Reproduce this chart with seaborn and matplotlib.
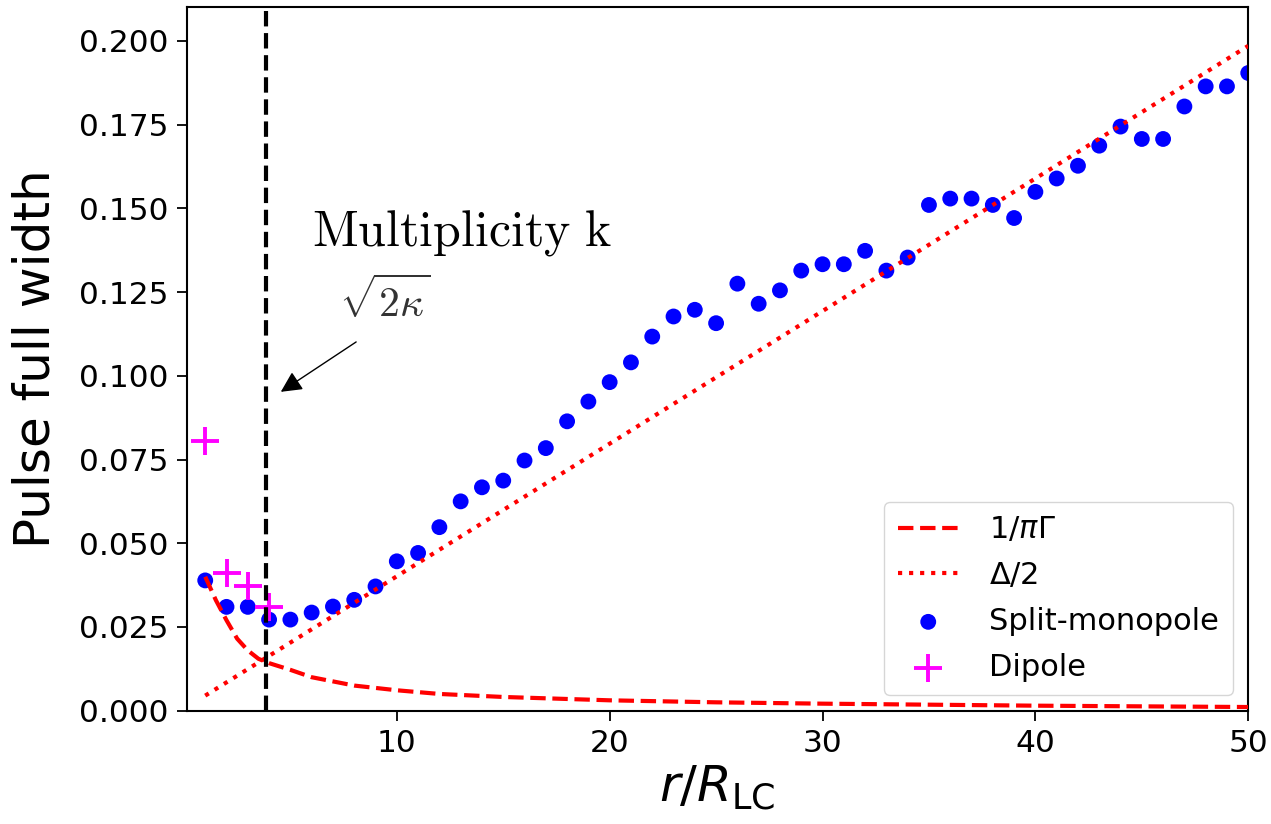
import numpy as np
import pandas as pd
import matplotlib
matplotlib.use("Agg")
import matplotlib.pyplot as plt
import seaborn as sns

# ---- data ----
split_r = list(range(1, 51))
split_width = [0.0389, 0.0310, 0.0310, 0.0272, 0.0272, 0.0293, 0.0311, 0.0331, 0.0371, 0.0446,
               0.0471, 0.0548, 0.0625, 0.0667, 0.0687, 0.0747, 0.0784, 0.0864, 0.0923, 0.0981,
               0.1040, 0.1117, 0.1177, 0.1197, 0.1157, 0.1275, 0.1215, 0.1255, 0.1314, 0.1333,
               0.1333, 0.1373, 0.1314, 0.1353, 0.1510, 0.1529, 0.1529, 0.1510, 0.1471, 0.1549,
               0.1589, 0.1627, 0.1687, 0.1744, 0.1707, 0.1707, 0.1804, 0.1864, 0.1864, 0.1904]

dipole_r = [1, 2, 3, 4]
dipole_width = [0.0804, 0.0411, 0.0371, 0.0311]

gamma_r = [1, 1.5, 2, 2.5, 3, 3.5, 4, 5, 6, 8, 10, 12, 15, 20, 25, 30, 35, 40, 45, 50]
gamma_width = [0.0400, 0.0330, 0.0270, 0.0215, 0.0180, 0.0155, 0.0142, 0.0122, 0.0100, 0.0075,
               0.0061, 0.0050, 0.0041, 0.0031, 0.0025, 0.0021, 0.0018, 0.0015, 0.0013, 0.0011]

delta_r = [1, 50]
delta_width = [0.0045, 0.1985]

kappa_r = 3.87  # sqrt(2 kappa)

xticks = [10, 20, 30, 40, 50]
yticks = [0.0, 0.025, 0.05, 0.075, 0.1, 0.125, 0.15, 0.175, 0.2]

# ---- plotting ----
sns.set_style("ticks")
plt.rcParams['font.family'] = ['DejaVu Sans']
plt.rcParams['text.color'] = 'black'
plt.rcParams['axes.labelcolor'] = 'black'
plt.rcParams['xtick.color'] = 'black'
plt.rcParams['ytick.color'] = 'black'

fig = plt.figure(figsize=(12.71, 8.24), dpi=100)
ax = fig.add_axes([0.1469, 0.1375, 0.8352, 0.8544])

df_gamma = pd.DataFrame({"r": gamma_r, "w": gamma_width})
df_delta = pd.DataFrame({"r": delta_r, "w": delta_width})
df_split = pd.DataFrame({"r": split_r, "w": split_width})
df_dip = pd.DataFrame({"r": dipole_r, "w": dipole_width})

sns.lineplot(data=df_gamma, x="r", y="w", ax=ax, color="red", lw=3,
             linestyle="--", label=r"$1/\pi\Gamma$", zorder=3)
sns.lineplot(data=df_delta, x="r", y="w", ax=ax, color="red", lw=3,
             linestyle=":", label=r"$\Delta/2$", zorder=3)
sns.scatterplot(data=df_split, x="r", y="w", ax=ax, color="blue", s=130,
                edgecolor="none", label="Split-monopole", zorder=2)
sns.scatterplot(data=df_dip, x="r", y="w", ax=ax, color="magenta", marker="+",
                s=420, linewidth=2.8, label="Dipole", zorder=4)

ax.axvline(kappa_r, color="black", lw=3, linestyle="--", zorder=5)

ax.text(6.02, 0.139, r"$\mathrm{Multiplicity\ k}$", fontsize=36,
        math_fontfamily="cm", va="baseline", ha="left", color="black")
ax.text(7.3, 0.1222, r"$\sqrt{2\kappa}$", fontsize=30, color="#333333",
        math_fontfamily="cm", va="center", ha="left")
ax.annotate("", xy=(4.55, 0.0952), xytext=(8.09, 0.1101),
            arrowprops=dict(arrowstyle="-|>", color="black", lw=1.0,
                            mutation_scale=32, shrinkA=0, shrinkB=0))

ax.set_xlim(0.13, 50)
ax.set_ylim(0, 0.2102)
ax.set_xticks(xticks)
ax.set_yticks(yticks)
ax.set_yticklabels([f"{v:.3f}" for v in yticks])
ax.tick_params(axis="both", labelsize=22.5, length=7, width=1.3, direction="out", pad=6,
               colors="black")
for sp in ax.spines.values():
    sp.set_visible(True)
    sp.set_linewidth(1.5)
    sp.set_color("black")

ax.set_xlabel(r"$r/R_{\rm LC}$", fontsize=36, labelpad=4)
ax.set_ylabel("Pulse full width", fontsize=36, labelpad=14)

leg = ax.legend(loc="lower right", fontsize=22, frameon=True, borderpad=0.45,
                handlelength=2.0, handletextpad=1.0, labelspacing=0.55)
leg.get_frame().set_edgecolor("#cccccc")
for t in leg.get_texts():
    t.set_color("black")

fig.savefig("out.png", dpi=100)
